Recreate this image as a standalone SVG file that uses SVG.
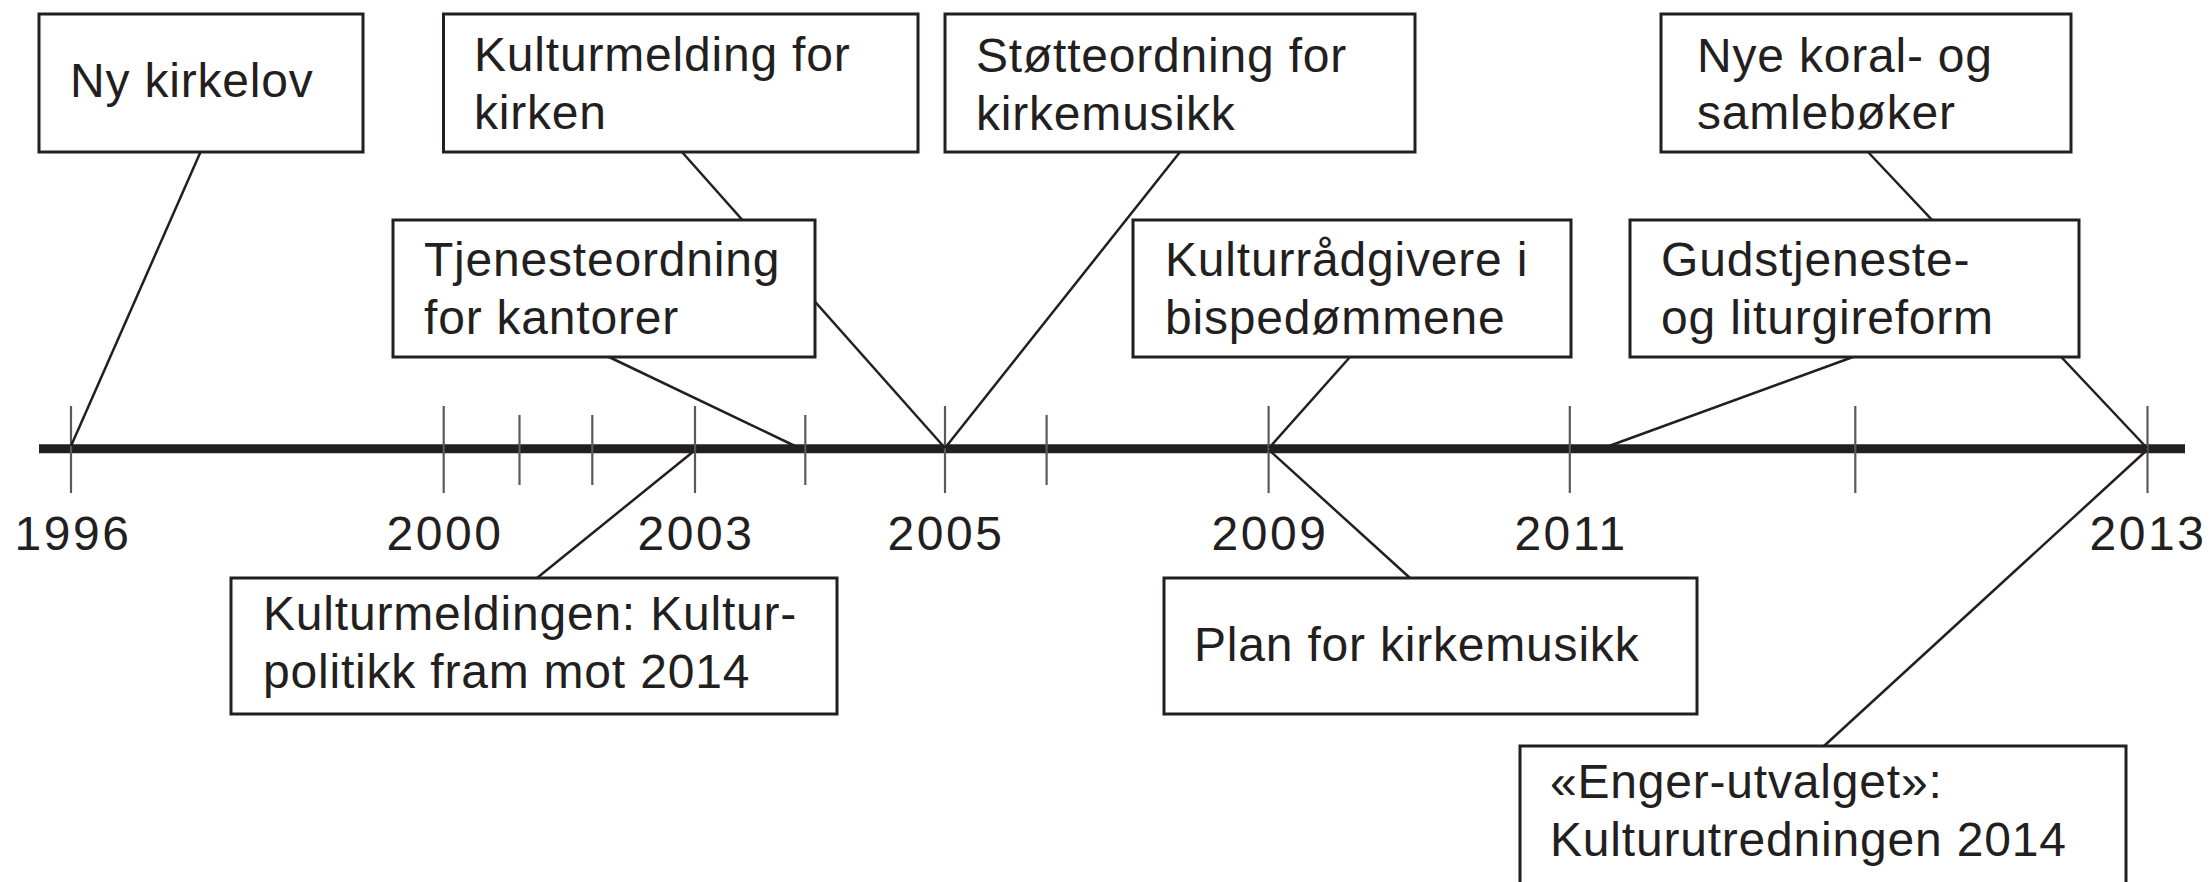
<svg xmlns="http://www.w3.org/2000/svg" width="2211" height="882" viewBox="0 0 2211 882">
<style>
.box{fill:#fff;stroke:#231f20;stroke-width:3}
.lbl{font-family:"Liberation Sans",Arial,Helvetica,sans-serif;font-size:48px;fill:#231f20;letter-spacing:0.8px}
.yr{font-family:"Liberation Sans",Arial,Helvetica,sans-serif;font-size:48px;fill:#231f20;text-anchor:middle;letter-spacing:2.5px}
.con{stroke:#231f20;stroke-width:2.5;fill:none}
.tick{stroke:#5a5a5a;stroke-width:2.2}
</style>
<rect width="2211" height="882" fill="#fff"/>
<g id="axis">
<line x1="39" y1="448.8" x2="2185" y2="448.8" stroke="#231f20" stroke-width="9"/>
<line class="tick" x1="71" y1="406" x2="71" y2="493"/>
<line class="tick" x1="443.7" y1="406" x2="443.7" y2="493"/>
<line class="tick" x1="519.5" y1="415" x2="519.5" y2="485"/>
<line class="tick" x1="592.3" y1="415" x2="592.3" y2="485"/>
<line class="tick" x1="695" y1="406" x2="695" y2="493"/>
<line class="tick" x1="805.3" y1="415" x2="805.3" y2="485"/>
<line class="tick" x1="945" y1="406" x2="945" y2="493"/>
<line class="tick" x1="1046.6" y1="415" x2="1046.6" y2="485"/>
<line class="tick" x1="1268.6" y1="406" x2="1268.6" y2="493"/>
<line class="tick" x1="1569.8" y1="406" x2="1569.8" y2="493"/>
<line class="tick" x1="1855.3" y1="406" x2="1855.3" y2="493"/>
<line class="tick" x1="2147.5" y1="406" x2="2147.5" y2="493"/>
<text class="yr" x="73" y="550">1996</text>
<text class="yr" x="445" y="550">2000</text>
<text class="yr" x="696" y="550">2003</text>
<text class="yr" x="946" y="550">2005</text>
<text class="yr" x="1270" y="550">2009</text>
<text class="yr" x="1571" y="550">2011</text>
<text class="yr" x="2148" y="550">2013</text>
</g>
<g id="connectors">
<line class="con" x1="200.5" y1="152" x2="71" y2="446"/>
<line class="con" x1="682" y1="152" x2="945" y2="448"/>
<line class="con" x1="609" y1="357" x2="795" y2="446"/>
<line class="con" x1="1180" y1="152" x2="945" y2="448"/>
<line class="con" x1="1350" y1="357" x2="1269" y2="448"/>
<line class="con" x1="1868" y1="152" x2="2147" y2="448"/>
<line class="con" x1="1853" y1="357" x2="1609" y2="446"/>
<line class="con" x1="537" y1="578" x2="694" y2="451"/>
<line class="con" x1="1410" y1="578" x2="1269" y2="450"/>
<line class="con" x1="1824" y1="746" x2="2147" y2="450"/>
</g>
<g id="n-ny-kirkelov">
<rect class="box" x="39" y="14" width="324" height="138"/>
<text class="lbl" x="70" y="97">Ny kirkelov</text>
</g>
<g id="n-kulturmelding-kirken">
<rect class="box" x="443.5" y="14" width="474.5" height="138"/>
<text class="lbl" x="474" y="71">Kulturmelding for</text>
<text class="lbl" x="474" y="129">kirken</text>
</g>
<g id="n-tjenesteordning">
<rect class="box" x="393" y="220" width="422" height="137"/>
<text class="lbl" x="424" y="276">Tjenesteordning</text>
<text class="lbl" x="424" y="334">for kantorer</text>
</g>
<g id="n-stotteordning">
<rect class="box" x="945" y="14" width="470" height="138"/>
<text class="lbl" x="976" y="72">Støtteordning for</text>
<text class="lbl" x="976" y="130">kirkemusikk</text>
</g>
<g id="n-kulturradgivere">
<rect class="box" x="1133" y="220" width="438" height="137"/>
<text class="lbl" x="1165" y="276">Kulturrådgivere i</text>
<text class="lbl" x="1165" y="334">bispedømmene</text>
</g>
<g id="n-nye-koral">
<rect class="box" x="1661" y="14" width="410" height="138"/>
<text class="lbl" x="1697" y="72">Nye koral- og</text>
<text class="lbl" x="1697" y="129">samlebøker</text>
</g>
<g id="n-gudstjeneste">
<rect class="box" x="1630" y="220" width="449" height="137"/>
<text class="lbl" x="1661" y="276">Gudstjeneste-</text>
<text class="lbl" x="1661" y="334">og liturgireform</text>
</g>
<g id="n-kulturmeldingen">
<rect class="box" x="231" y="578" width="606" height="136"/>
<text class="lbl" x="263" y="630">Kulturmeldingen: Kultur-</text>
<text class="lbl" x="263" y="688">politikk fram mot 2014</text>
</g>
<g id="n-plan">
<rect class="box" x="1164" y="578" width="533" height="136"/>
<text class="lbl" x="1194" y="661">Plan for kirkemusikk</text>
</g>
<g id="n-enger">
<rect class="box" x="1520" y="746" width="606" height="140"/>
<text class="lbl" x="1550" y="798">«Enger-utvalget»:</text>
<text class="lbl" x="1550" y="856">Kulturutredningen 2014</text>
</g>
</svg>
